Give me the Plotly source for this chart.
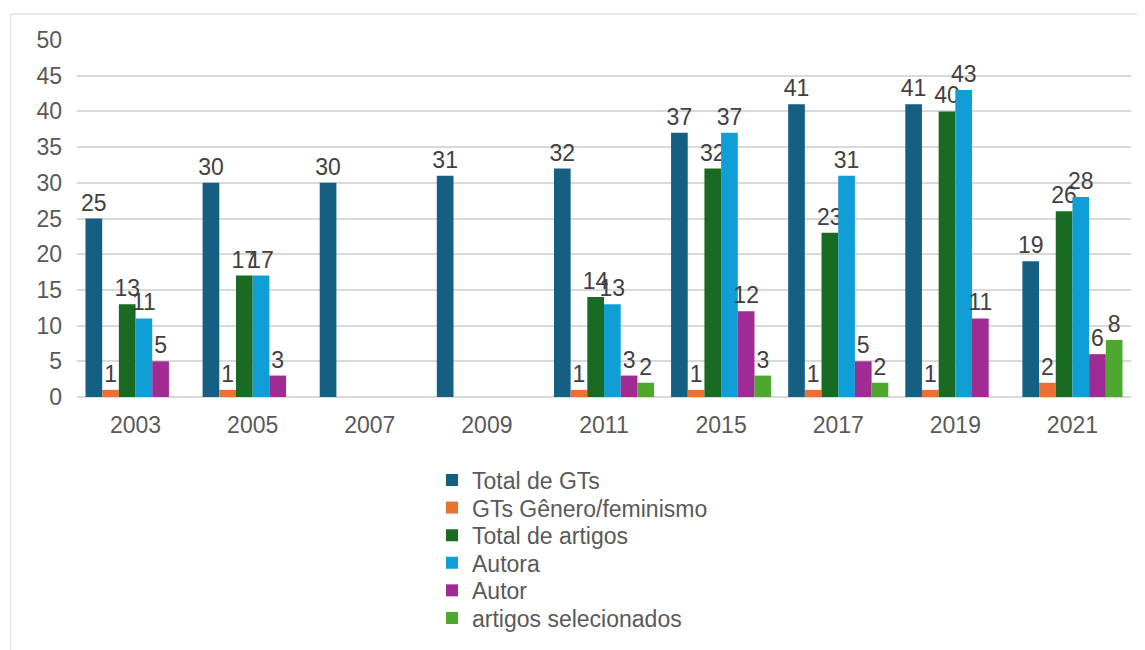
import plotly.graph_objects as go

years = ["2003", "2005", "2007", "2009", "2011", "2015", "2017", "2019", "2021"]
total_gts = [25, 30, 30, 31, 32, 37, 41, 41, 19]
gts_genero = [1, 1, None, None, 1, 1, 1, 1, 2]
total_artigos = [13, 17, None, None, 14, 32, 23, 40, 26]
autora = [11, 17, None, None, 13, 37, 31, 43, 28]
autor = [5, 3, None, None, 3, 12, 5, 11, 6]
artigos_sel = [None, None, None, None, 2, 3, 2, None, 8]

series = [
    ("Total de GTs", total_gts, "#156082"),
    ("GTs Gênero/feminismo", gts_genero, "#E97132"),
    ("Total de artigos", total_artigos, "#196B24"),
    ("Autora", autora, "#0F9ED5"),
    ("Autor", autor, "#A02B93"),
    ("artigos selecionados", artigos_sel, "#4EA72E"),
]

FONT = "Liberation Sans, Arial, sans-serif"
FS = 23

# page is offset by the 8px body margin
OFF = 8
FW, FH = 1145 - OFF, 650 - OFF
L, R, T, B = 77 - OFF, 14, 40 - OFF, FH - (398 - OFF)
W, H = FW - L - R, FH - T - B


def px_x(p):  # page pixel -> paper
    return (p - OFF - L) / W


def px_y(p):
    return (FH - B - (p - OFF)) / H


fig = go.Figure()
legend_names = ["legend", "legend2", "legend3", "legend4", "legend5", "legend6"]
for i, (name, vals, col) in enumerate(series):
    fig.add_trace(go.Bar(
        name=name, x=years, y=vals, marker=dict(color=col, line=dict(width=0)),
        text=[("" if v is None else str(v)) for v in vals],
        textposition="outside", cliponaxis=False, constraintext="none",
        textfont=dict(family=FONT, size=FS, color="#404040"),
        legend=legend_names[i],
    ))

border = dict(color="#e3e3e3", width=1.5)
shapes = [
    dict(type="line", xref="paper", yref="paper", x0=px_x(10.5), x1=px_x(1150),
         y0=px_y(14), y1=px_y(14), line=border),
    dict(type="line", xref="paper", yref="paper", x0=px_x(10.5), x1=px_x(10.5),
         y0=px_y(14), y1=px_y(655), line=border),
]

row_y = [480, 507.6, 535.2, 562.8, 590.4, 618]
legends = {}
for i, ln in enumerate(legend_names):
    legends[ln] = dict(
        orientation="v", x=px_x(432), xanchor="left", y=px_y(row_y[i]), yanchor="middle",
        font=dict(family=FONT, size=FS, color="#595959"),
        itemwidth=30, bgcolor="rgba(0,0,0,0)",
    )

fig.update_layout(
    width=FW, height=FH,
    margin=dict(l=L, r=R, t=T, b=B),
    paper_bgcolor="white", plot_bgcolor="white",
    barmode="group", bargap=0.145, bargroupgap=0,
    font=dict(family=FONT, size=FS, color="#595959"),
    shapes=shapes,
    showlegend=True,
    **legends,
)
fig.update_yaxes(
    range=[0, 50], dtick=5, showgrid=True, gridcolor="#d9d9d9", gridwidth=1.5,
    zeroline=True, zerolinecolor="#d9d9d9", zerolinewidth=1.5,
    showline=False, ticks="", ticklabelstandoff=14,
    tickfont=dict(family=FONT, size=FS, color="#595959"),
)
fig.update_xaxes(
    showgrid=False, showline=False, ticks="", ticklabelstandoff=12,
    tickfont=dict(family=FONT, size=FS, color="#595959"),
)

fig.write_html("out.html")
